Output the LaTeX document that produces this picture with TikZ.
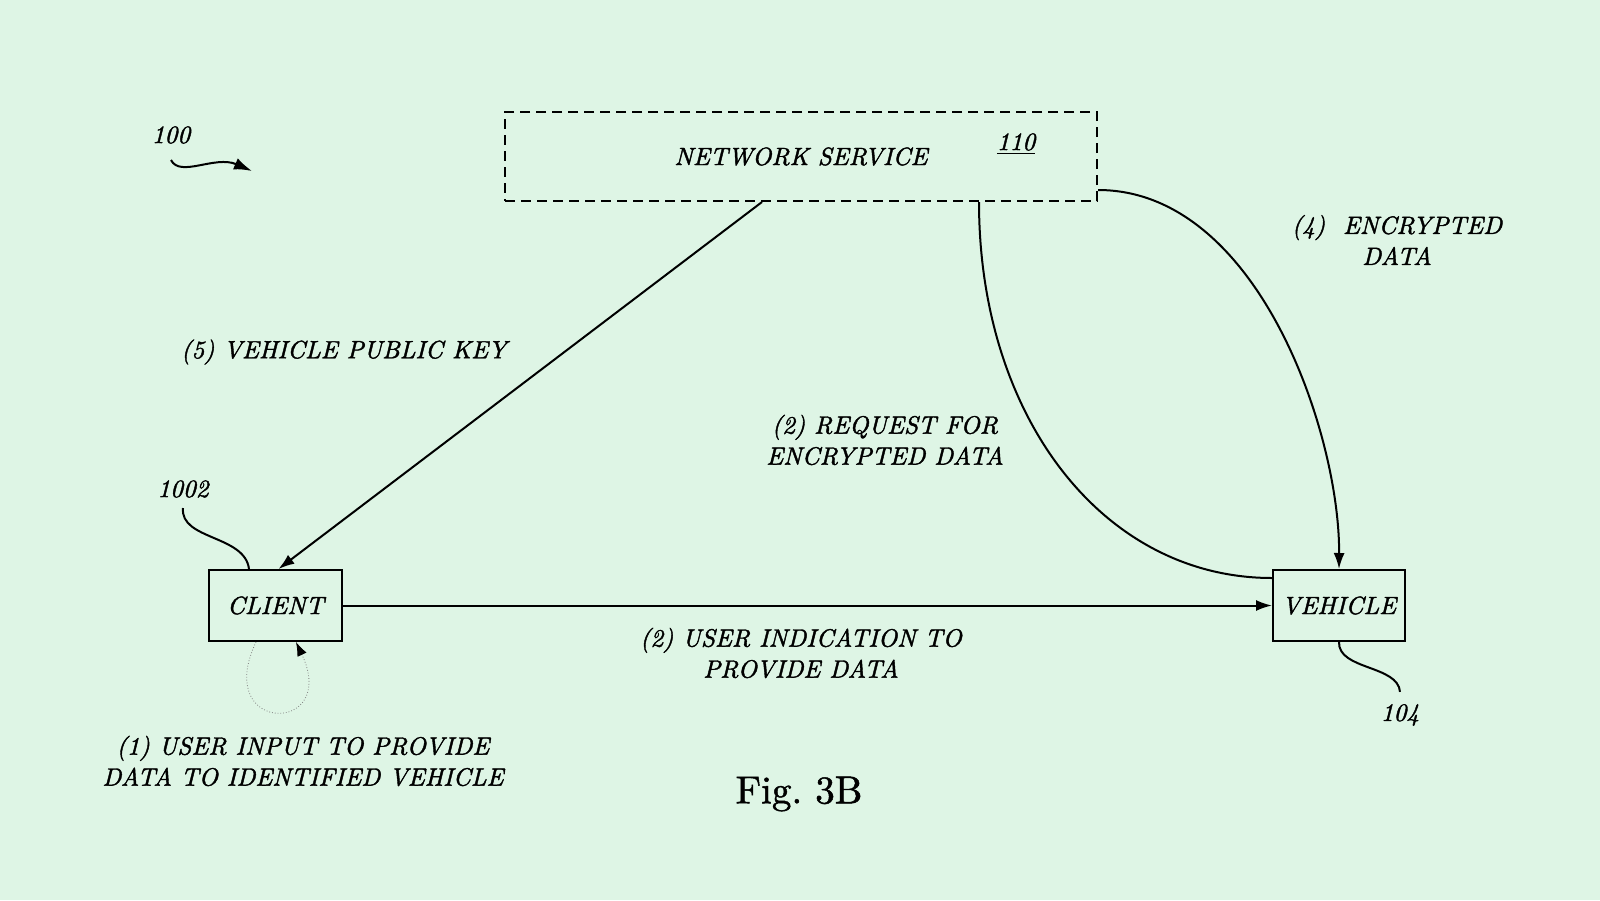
\documentclass[tikz,border=0pt]{standalone}
\usepackage{fontspec}
\usetikzlibrary{arrows.meta}
\newfontfamily\labfont{lmroman10-italic.otf}[FakeBold=1.6]
\newfontfamily\figfont{lmroman10-regular.otf}[FakeBold=1.2]
\definecolor{bgc}{RGB}{222,245,229}
\tikzset{
  lab/.style={font=\labfont\fontsize{12.5}{15.5}\selectfont, align=center, inner sep=0pt},
  boxnode/.style={draw, line width=1pt, font=\labfont\fontsize{12.5}{15.5}\selectfont, inner sep=0pt},
  conn/.style={line width=1pt},
  arr/.style={line width=1pt, -{Latex[length=8pt,width=5.5pt]}},
  lead/.style={line width=1pt},
  loopline/.style={line width=0.4pt, gray, densely dotted, -{Latex[length=7pt,width=5pt,black]}}
}
\begin{document}
\begin{tikzpicture}[x=0.5pt,y=-0.5pt]
\useasboundingbox[fill=bgc] (0,0) rectangle (1600,900);

% nodes
\node[boxnode, dash pattern=on 5pt off 3pt, minimum width=296pt, minimum height=44.5pt] (ns) at (801,156.5) {NETWORK SERVICE};
\node[lab] (n110) at (1016,144) {\underline{110}};
\node[boxnode, minimum width=66.5pt, minimum height=35.5pt] (client) at (275.5,605.5) {CLIENT};
\node[boxnode, minimum width=66pt, minimum height=35.5pt] (vehicle) at (1339,605.5) {VEHICLE};

\node[lab] (n100) at (171,135) {100};
\node[lab] (n1002) at (183,489) {1002};
\node[lab] (n104) at (1400,715) {104};

\node[lab] (l5) at (344,352) {(5) VEHICLE PUBLIC KEY};
\node[lab] (l2r) at (885,440) {(2) REQUEST FOR\\ENCRYPTED DATA};
\node[lab] (l4) at (1397,240) {(4)\ \ ENCRYPTED\\DATA};
\node[lab] (l2u) at (801,653) {(2) USER INDICATION TO\\PROVIDE DATA};
\node[lab] (l1) at (303,761) {(1) USER INPUT TO PROVIDE\\DATA TO IDENTIFIED VEHICLE};
\node[font=\figfont\fontsize{19.5}{24}\selectfont, inner sep=0pt] (fig) at (799,794) {Fig.\ 3B};

% connectors
\draw[arr] ([xshift=-19.5pt]ns.south) -- ([xshift=1.5pt]client.north);
\draw[arr] (client.east) -- (vehicle.west);
\draw[conn] ([xshift=89pt]ns.south) .. controls (979,417) and (1103,578) .. ([yshift=13.75pt]vehicle.west);
\draw[arr] ([yshift=-16.75pt]ns.east) .. controls (1258,190) and (1340,434) .. (vehicle.north);

% self loop
\draw[loopline] ([xshift=-9.75pt]client.south) .. controls (212,735) and (340,735) .. ([xshift=10.25pt]client.south);

% reference leaders
\draw[lead, -{Latex[length=9pt,width=6pt]}] ([yshift=-8pt]n100.south) .. controls (180,178) and (215,155) .. (252,171);
\draw[lead] ([yshift=-5pt]n1002.south) .. controls (180,540) and (245,535) .. ([xshift=-13.25pt]client.north);
\draw[lead] (vehicle.south) .. controls (1338,670) and (1398,665) .. ([yshift=6pt]n104.north);
\end{tikzpicture}
\end{document}
